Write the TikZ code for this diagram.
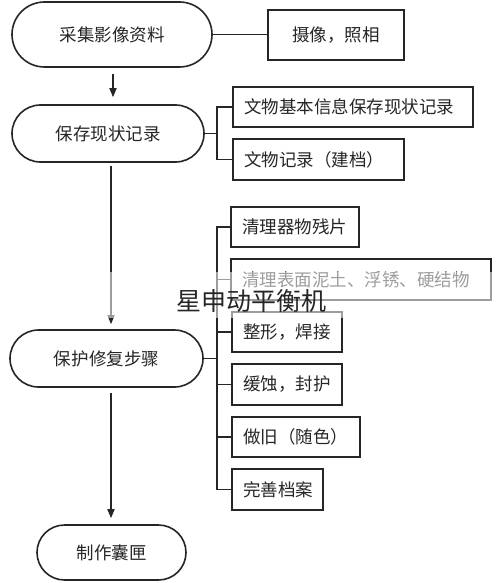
\documentclass[tikz,border=0pt]{standalone}
\usepackage{fontspec}
\setmainfont{Noto Sans CJK SC}
\usetikzlibrary{arrows.meta,shapes.misc}
\definecolor{ink}{HTML}{262626}
\begin{document}
\begin{tikzpicture}[x=1bp,y=-1bp,
  stadium/.style={rounded rectangle, draw=ink, line width=1.6bp, inner sep=0pt,
    font=\fontsize{17.5bp}{20bp}\selectfont, text=ink},
  box/.style={rectangle, draw=ink, line width=1.6bp, inner xsep=11bp, inner ysep=0pt,
    align=left, font=\fontsize{17.5bp}{20bp}\selectfont, text=ink},
  conn/.style={draw=ink, line width=1.6bp},
  arr/.style={conn, -{Triangle[width=7bp,length=9bp]}},
  wm/.style={inner sep=0pt, font=\fontsize{25bp}{28bp}\selectfont, text=black!85}]
\useasboundingbox (0,0) rectangle (500,583);
\fill[white] (0,0) rectangle (500,583);
% main flow
\node[stadium, minimum width=200bp, minimum height=65bp] (S1) at (112,34.5) {采集影像资料};
\node[stadium, minimum width=192bp, minimum height=57bp] (S2) at (108,133.5) {保存现状记录};
\node[stadium, minimum width=193bp, minimum height=57bp] (S3) at (106.5,358.5) {保护修复步骤};
\node[stadium, minimum width=149bp, minimum height=55bp] (S4) at (111.5,552.5) {制作囊匣};
% side boxes
\node[box, align=center, text width=114bp, minimum height=50bp] (B1) at (336,35) {摄像，照相};
\node[box, text width=218bp, minimum height=40bp] (B2) at (353,107) {文物基本信息保存现状记录};
\node[box, text width=149bp, minimum height=41bp] (B3) at (318.5,159.5) {文物记录（建档）};
\node[box, text width=106bp, minimum height=40bp] (C1) at (295,227) {清理器物残片};
\node[box, text width=238bp, minimum height=41bp] (C2) at (361,279.5) {清理表面泥土、浮锈、硬结物};
\node[box, text width=88bp, minimum height=40bp] (C3) at (287,332) {整形，焊接};
\node[box, text width=88bp, minimum height=41bp] (C4) at (287,384.5) {缓蚀，封护};
\node[box, text width=106bp, minimum height=40bp] (C5) at (296,437) {做旧（随色）};
\node[box, text width=69bp, minimum height=41bp] (C6) at (277.5,489.5) {完善档案};
\coordinate (bx) at (217,0);
\coordinate (ax) at (111,0);
\coordinate (ax1) at (113,0);
% connectors
\draw[conn] (S1.east) -- (S1.east -| B1.west);
\draw[conn] (S2.east) -- (S2.east -| bx);
\draw[conn] (B2.west) -- (B2.west -| bx) -- (B3.west -| bx) -- (B3.west);
\draw[conn] (S3.east) -- (S3.east -| bx);
\draw[conn] (C1.west) -- (C1.west -| bx) -- (C6.west -| bx) -- (C6.west);
\draw[conn] (C2.west) -- (C2.west -| bx);
\draw[conn] (C3.west) -- (C3.west -| bx);
\draw[conn] (C4.west) -- (C4.west -| bx);
\draw[conn] (C5.west) -- (C5.west -| bx);
% arrows
\draw[arr, shorten <=6bp, shorten >=7bp] (S1.south -| ax1) -- (S2.north -| ax1);
\draw[arr, shorten <=3bp, shorten >=5bp] (S2.south -| ax) -- (S3.north -| ax);
\draw[arr, shorten <=5bp, shorten >=6bp] (S3.south -| ax) -- (S4.north -| ax);
% watermark
\fill[white, opacity=0.55] (100,272) rectangle (493,318);
\node[wm] (wm) at (251,301) {星申动平衡机};
\end{tikzpicture}
\end{document}
